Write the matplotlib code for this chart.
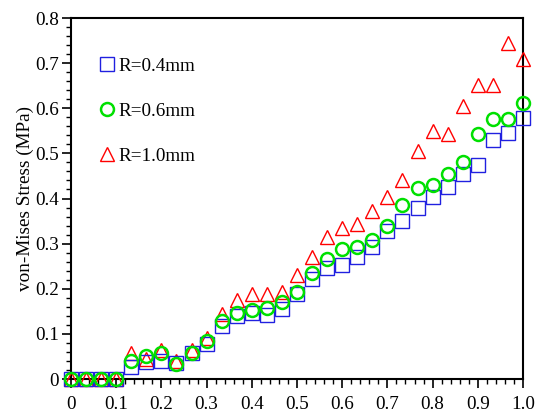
import numpy as np
import matplotlib.pyplot as plt
from matplotlib.ticker import MultipleLocator

plt.rcParams['font.family'] = ['Liberation Serif', 'DejaVu Serif']

# Dados
x = np.arange(31) / 30.0

r04 = [0, 0, 0, 0, 0.027, 0.038, 0.039, 0.035, 0.058, 0.078,
       0.118, 0.140, 0.146, 0.142, 0.155, 0.188, 0.222, 0.246, 0.252, 0.271,
       0.292, 0.328, 0.351, 0.378, 0.404, 0.425, 0.455, 0.474, 0.530, 0.546,
       0.579]
r06 = [0, 0, 0, 0, 0.041, 0.051, 0.057, 0.033, 0.057, 0.084,
       0.129, 0.147, 0.154, 0.158, 0.171, 0.192, 0.236, 0.266, 0.288, 0.293,
       0.308, 0.338, 0.386, 0.423, 0.430, 0.455, 0.480, 0.543, 0.576, 0.576,
       0.611]
r10 = [0, 0, 0, 0, 0.058, 0.045, 0.064, 0.041, 0.065, 0.092,
       0.143, 0.175, 0.188, 0.188, 0.193, 0.230, 0.270, 0.315, 0.335, 0.343,
       0.372, 0.404, 0.440, 0.506, 0.550, 0.544, 0.605, 0.651, 0.651, 0.745,
       0.710]

xticks = np.arange(0, 1.01, 0.1)
xtick_labels = ['0', '0.1', '0.2', '0.3', '0.4', '0.5', '0.6', '0.7', '0.8', '0.9', '1.0']
yticks = np.arange(0, 0.81, 0.1)
ytick_labels = ['0', '0.1', '0.2', '0.3', '0.4', '0.5', '0.6', '0.7', '0.8']

fig = plt.figure(figsize=(5.39, 4.16), dpi=100)
ax = fig.add_axes([0.1317, 0.0889, 0.8386, 0.8678])

ax.plot(x, r10, '^', ms=10.5, mfc='none', mec='#ff0000', mew=1.0, clip_on=False, label='R=1.0mm', zorder=3)
ax.plot(x, r04, 's', ms=10.5, mfc='none', mec='#2020e0', mew=1.0, clip_on=False, label='R=0.4mm', zorder=4)
ax.plot(x, r06, 'o', ms=9.3, mfc='none', mec='#00e000', mew=1.8, clip_on=False, label='R=0.6mm', zorder=5)

ax.set_xlim(0, 1)
ax.set_ylim(0, 0.8)
ax.set_xticks(xticks)
ax.set_xticklabels(xtick_labels)
ax.set_yticks(yticks)
ax.set_yticklabels(ytick_labels)
ax.xaxis.set_minor_locator(MultipleLocator(0.02))
ax.yaxis.set_minor_locator(MultipleLocator(0.02))
ax.tick_params(which='major', direction='out', length=6.5, width=1.2, labelsize=13.8, top=False, right=False)
ax.tick_params(which='minor', direction='out', length=3.5, width=1.0, top=False, right=False)
ax.tick_params(axis='x', which='major', pad=6)
ax.tick_params(axis='y', which='major', pad=2)
for s in ax.spines.values():
    s.set_linewidth(1.5)

ax.set_ylabel('von-Mises Stress (MPa)', fontsize=13.8, labelpad=1)

h, l = ax.get_legend_handles_labels()
ordem = [1, 2, 0]
ax.legend([h[i] for i in ordem], [l[i] for i in ordem], loc='upper left',
          bbox_to_anchor=(0.036, 0.918), frameon=False, fontsize=13.8,
          labelspacing=1.45, handletextpad=0.05, handlelength=1.1, borderpad=0)

fig.savefig('out.png', dpi=100)
